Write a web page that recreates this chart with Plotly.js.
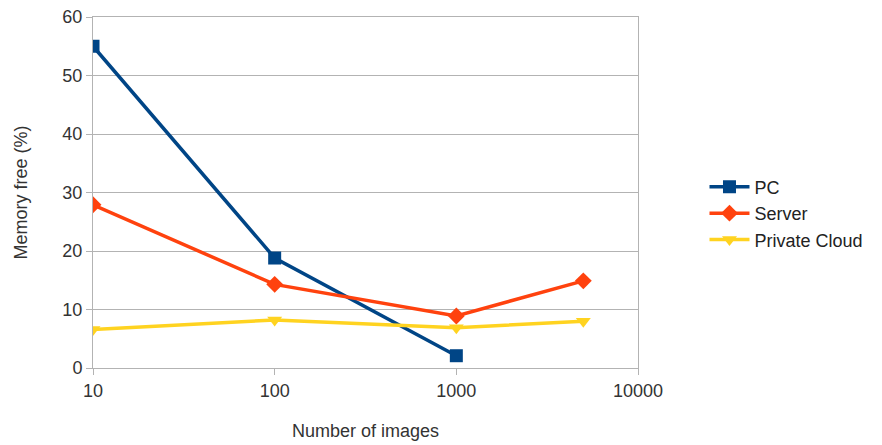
<!DOCTYPE html>
<html><head><meta charset="utf-8">
<script src="https://cdn.plot.ly/plotly-3.0.1.min.js"></script>
<style>html,body{margin:0;padding:0;background:#fff}</style>
</head><body><div id="chart" style="width:882px;height:445px"></div>
<script>
const images = [10, 100, 1000, 5000];
const pcX = [10, 100, 1000];
const pcValues = [55.0, 18.8, 2.1];
const serverValues = [27.9, 14.3, 8.9, 14.9];
const cloudValues = [6.6, 8.2, 6.9, 8.0];
const xTickVals = [10, 100, 1000, 10000];
const xTickText = ['10', '100', '1000', '10000'];

const traces = [
  {x: pcX, y: pcValues, name: 'PC', mode: 'lines+markers',
   line: {color: '#004586', width: 3.5}, marker: {symbol: 'square', size: 13, color: '#004586'}},
  {x: images, y: serverValues, name: 'Server', mode: 'lines+markers',
   line: {color: '#ff420e', width: 3.5}, marker: {symbol: 'diamond', size: 13, color: '#ff420e'}},
  {x: images, y: cloudValues, name: 'Private Cloud', mode: 'lines+markers',
   line: {color: '#ffd320', width: 3.5}, marker: {symbol: 'triangle-down', size: 13, color: '#ffd320'}}
];
const layout = {
  width: 882, height: 445,
  margin: {l: 93, r: 244, t: 17, b: 77},
  paper_bgcolor: '#fff', plot_bgcolor: '#fff',
  font: {family: 'Liberation Sans, Arial, sans-serif', color: '#333', size: 18},
  showlegend: true,
  legend: {x: 1.122, y: 0.44, xanchor: 'left', yanchor: 'middle', font: {size: 18, color: '#222'},
           tracegroupgap: 0, itemwidth: 40},
  xaxis: {type: 'log', range: [1, 4], tickvals: xTickVals, ticktext: xTickText,
          showgrid: false, showline: true, linecolor: '#b3b3b3', mirror: true,
          ticks: 'outside', ticklen: 6, tickcolor: '#b3b3b3', zeroline: false,
          title: {text: 'Number of images', font: {size: 18}, standoff: 24}},
  yaxis: {range: [0, 60], dtick: 10, showgrid: true, gridcolor: '#b3b3b3',
          showline: true, linecolor: '#b3b3b3', mirror: true,
          ticks: 'outside', ticklen: 6, tickcolor: '#b3b3b3', zeroline: false,
          title: {text: 'Memory free (%)', font: {size: 18}, standoff: 30}}
};
Plotly.newPlot('chart', traces, layout, {displayModeBar: false, staticPlot: true});
</script></body></html>
